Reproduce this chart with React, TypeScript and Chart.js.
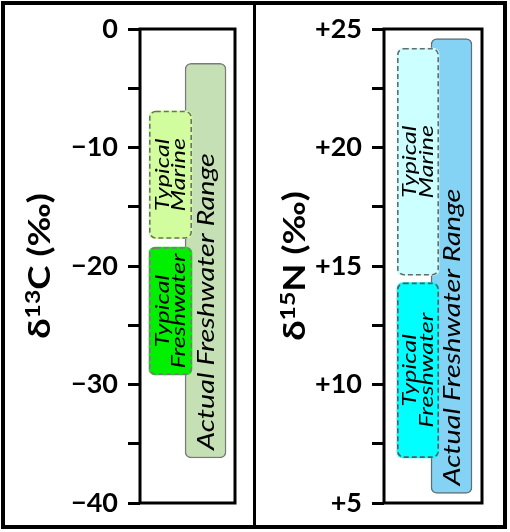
import React, { useEffect, useRef } from 'react';
import { Chart, registerables } from 'chart.js';
Chart.register(...registerables);

// ---- data ----
const categories = ['Typical', 'Actual'];
const seriesNames = ['Actual Freshwater Range', 'Typical Marine', 'Typical Freshwater'];
const seriesCategory = [2, 1, 1]; // 1-based position in categories
const seriesLabelLines = [['Actual Freshwater Range'], ['Typical', 'Marine'], ['Typical', 'Freshwater']];
const c13Low = [-36.2, -17.7, -29.2];
const c13High = [-2.9, -6.9, -18.4];
const n15Low = [5.4, 14.6, 6.9];
const n15High = [24.6, 24.2, 14.3];
const c13TickValues = [0, -10, -20, -30, -40];
const c13TickLabels = ['0', '\u221210', '\u221220', '\u221230', '\u221240'];
const n15TickValues = [25, 20, 15, 10, 5];
const n15TickLabels = ['+25', '+20', '+15', '+10', '+5'];

type PanelCfg = {
  low: number[];
  high: number[];
  fills: string[];
  borders: string[];
  dashed: boolean[];
  thickness: number[];
  yMin: number;
  yMax: number;
  step: number;
  tickValues: number[];
  tickLabels: string[];
  axisWidth: number;
  padRight: number;
  xMin: number;
  xMax: number;
  titleX: number;
  titleA: string;
  titleSup: string;
  titleB: string;
};

const FONT = 'Lato, "Open Sans", sans-serif';
const TEXT_STRETCH = 1.2;

function Panel({ cfg, left }: { cfg: PanelCfg; left: number }) {
  const ref = useRef<HTMLCanvasElement | null>(null);
  useEffect(() => {
    if (!ref.current) return;
    const decor = {
      id: 'decor',
      afterDatasetsDraw(chart: any) {
        const ctx = chart.ctx as CanvasRenderingContext2D;
        chart.data.datasets.forEach((_ds: any, i: number) => {
          const meta = chart.getDatasetMeta(i);
          meta.data.forEach((bar: any) => {
            const { x, y, base, width } = bar.getProps(['x', 'y', 'base', 'width'], true);
            const top = Math.min(y, base);
            const bottom = Math.max(y, base);
            const h = bottom - top;
            if (cfg.dashed[i]) {
              ctx.save();
              ctx.setLineDash([5, 3]);
              ctx.lineWidth = 1.6;
              ctx.strokeStyle = cfg.borders[i];
              ctx.beginPath();
              (ctx as any).roundRect(x - width / 2 + 0.8, top + 0.8, width - 1.6, h - 1.6, 6);
              ctx.stroke();
              ctx.restore();
            }
            const lines = seriesLabelLines[i];
            ctx.save();
            ctx.fillStyle = '#000';
            if (lines.length === 1) {
              ctx.font = `italic 24px ${FONT}`;
              ctx.translate(x + 1, bottom - 8);
              ctx.rotate(-Math.PI / 2);
              ctx.scale(TEXT_STRETCH, 1);
              ctx.textAlign = 'left';
              ctx.textBaseline = 'middle';
              ctx.fillText(lines[0], 0, 0);
            } else {
              ctx.font = `italic 20px ${FONT}`;
              ctx.translate(x, (top + bottom) / 2);
              ctx.rotate(-Math.PI / 2);
              ctx.scale(1.25, 1);
              ctx.textAlign = 'center';
              ctx.textBaseline = 'middle';
              const lh = 16.5;
              lines.forEach((ln, k) => {
                ctx.fillText(ln, 0, (k - (lines.length - 1) / 2) * lh);
              });
            }
            ctx.restore();
          });
        });
        const a = chart.chartArea;
        ctx.save();
        ctx.lineWidth = 3;
        ctx.strokeStyle = '#000';
        ctx.strokeRect(a.left, a.top, a.right - a.left, a.bottom - a.top);
        ctx.restore();
      },
      afterDraw(chart: any) {
        const ctx = chart.ctx as CanvasRenderingContext2D;
        const a = chart.chartArea;
        const cy = (a.top + a.bottom) / 2;
        const big = `bold 31px ${FONT}`;
        const sup = `bold 21px ${FONT}`;
        const k = 1.18;
        ctx.save();
        ctx.font = big;
        const wA = ctx.measureText(cfg.titleA).width;
        const wB = ctx.measureText(cfg.titleB).width;
        ctx.font = sup;
        const wS = ctx.measureText(cfg.titleSup).width;
        const total = wA + wS + wB;
        ctx.translate(cfg.titleX, cy);
        ctx.rotate(-Math.PI / 2);
        ctx.scale(k, 1);
        ctx.fillStyle = '#000';
        ctx.textBaseline = 'alphabetic';
        ctx.textAlign = 'left';
        let px = -total / 2;
        ctx.font = big;
        ctx.fillText(cfg.titleA, px, 0);
        px += wA;
        ctx.font = sup;
        ctx.fillText(cfg.titleSup, px, -10);
        px += wS;
        ctx.font = big;
        ctx.fillText(cfg.titleB, px, 0);
        ctx.restore();
      },
    };

    const chart = new Chart(ref.current, {
      type: 'bar',
      data: {
        datasets: seriesNames.map((name, i) => ({
          label: name,
          data: [{ x: seriesCategory[i], y: [cfg.low[i], cfg.high[i]] }],
          backgroundColor: cfg.fills[i],
          borderColor: cfg.borders[i],
          borderWidth: cfg.dashed[i] ? 0 : 1.5,
          borderRadius: 6,
          borderSkipped: false,
          barThickness: cfg.thickness[i],
          grouped: false,
          order: cfg.dashed[i] ? 1 : 2,
        })) as any,
      },
      plugins: [decor],
      options: {
        animation: false,
        responsive: false,
        devicePixelRatio: 1,
        layout: { padding: { left: 0, right: cfg.padRight, top: 29, bottom: 29 } },
        plugins: { legend: { display: false }, tooltip: { enabled: false }, title: { display: false } },
        scales: {
          x: {
            type: 'linear',
            display: false,
            min: cfg.xMin,
            max: cfg.xMax,
            offset: false,
          },
          y: {
            type: 'linear',
            min: cfg.yMin,
            max: cfg.yMax,
            afterFit: (s: any) => {
              s.width = cfg.axisWidth;
            },
            border: { display: false },
            grid: {
              drawOnChartArea: false,
              drawTicks: true,
              tickLength: 12,
              lineWidth: 3,
              color: '#000',
            },
            ticks: {
              stepSize: cfg.step,
              autoSkip: false,
              padding: 10,
              color: '#000',
              font: { family: FONT, weight: 'bold', size: 27 },
              callback: (v: any) => {
                const idx = cfg.tickValues.indexOf(Number(v));
                return idx >= 0 ? cfg.tickLabels[idx] : '';
              },
            },
          },
        },
      } as any,
    });
    return () => chart.destroy();
  }, [cfg]);
  return (
    <canvas
      ref={ref}
      width={255}
      height={532}
      style={{ position: 'absolute', left, top: 0, width: 255, height: 532, display: 'block' }}
    />
  );
}

const leftCfg: PanelCfg = {
  low: c13Low,
  high: c13High,
  fills: ['#c5e0b4', '#d2fd9e', '#00f000'],
  borders: ['#7a7a7a', '#6f6f6f', '#8a6f8a'],
  dashed: [false, true, true],
  thickness: [41, 43, 43],
  yMin: -40,
  yMax: 0,
  step: 5,
  tickValues: c13TickValues,
  tickLabels: c13TickLabels,
  axisWidth: 140,
  padRight: 20,
  xMin: 0.13,
  xMax: 2.84,
  titleX: 50,
  titleA: '\u03b4',
  titleSup: '13',
  titleB: 'C (\u2030)',
};

const rightCfg: PanelCfg = {
  low: n15Low,
  high: n15High,
  fills: ['#84d3f5', '#ccffff', '#00ffff'],
  borders: ['#5f6f78', '#6a6a6a', '#5a5a5a'],
  dashed: [false, true, true],
  thickness: [41, 42, 42],
  yMin: 5,
  yMax: 25,
  step: 2.5,
  tickValues: n15TickValues,
  tickLabels: n15TickLabels,
  axisWidth: 129,
  padRight: 28,
  xMin: -0.015,
  xMax: 2.91,
  titleX: 50,
  titleA: '\u03b4',
  titleSup: '15',
  titleB: 'N (\u2030)',
};

export default function App() {
  return (
    <div style={{ position: 'absolute', left: 0, top: 0, width: 510, height: 532, background: '#fff', overflow: 'hidden' }}>
      <Panel cfg={leftCfg} left={0} />
      <Panel cfg={rightCfg} left={255} />
      <div
        style={{
          position: 'absolute',
          left: 1,
          top: 1,
          width: 506,
          height: 528,
          border: '4px solid #000',
          boxSizing: 'border-box',
          pointerEvents: 'none',
        }}
      />
      <div style={{ position: 'absolute', left: 253, top: 1, width: 3, height: 528, background: '#000' }} />
    </div>
  );
}
